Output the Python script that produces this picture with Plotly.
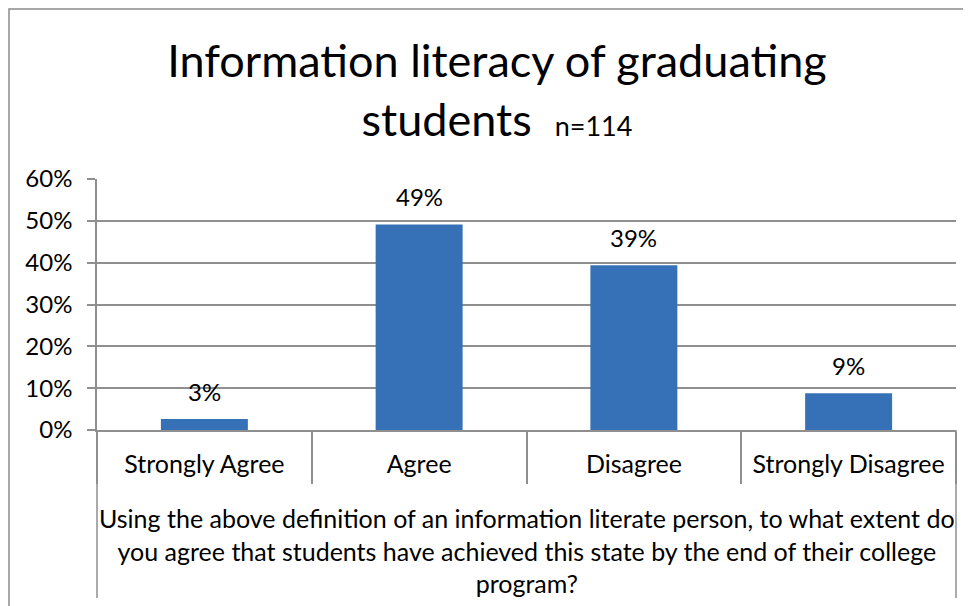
import plotly.graph_objects as go

categories = ["Strongly Agree", "Agree", "Disagree", "Strongly Disagree"]
values = [0.026, 0.491, 0.394, 0.088]
y_ticks = [0, 0.1, 0.2, 0.3, 0.4, 0.5, 0.6]
y_tick_labels = ["0%", "10%", "20%", "30%", "40%", "50%", "60%"]

title_main = "Information literacy of graduating<br>students  <span style='font-size:27px'>n=114</span>"
x_title = ("Using the above definition of an information literate person, to what extent do<br>"
           "you agree that students have achieved this state by the end of their college<br>"
           "program?")

FONT = "Lato, Carlito, Calibri, sans-serif"
GRID = "#8f8f8f"

# the page body has an 8px margin, so figure coords = screen coords - 8
W, H = 963, 598
L, R, T, B = 89, 948, 171, 422

def px(x):
    return (x - L) / (R - L)

def py(y):
    return (B - y) / (B - T)

fig = go.Figure()
fig.add_trace(go.Bar(
    x=categories, y=values,
    marker=dict(color="#3670b6", line=dict(width=0)),
    width=0.405,
    hoverinfo="skip",
))

for c, v in zip(categories, values):
    fig.add_annotation(x=c, y=v, text=f"{v:.0%}", showarrow=False,
                       yanchor="middle", yshift=28,
                       font=dict(family=FONT, size=24, color="#000"))

shapes = [
    dict(type="rect", xref="paper", yref="paper", x0=px(1), x1=px(1000), y0=py(640), y1=py(1),
         line=dict(color="#8a8a8a", width=1.5), fillcolor="rgba(0,0,0,0)", layer="below"),
    dict(type="line", xref="paper", yref="paper", x0=0, x1=0, y0=py(590), y1=0,
         line=dict(color=GRID, width=1.5)),
    dict(type="line", xref="paper", yref="paper", x0=1, x1=1, y0=py(590), y1=0,
         line=dict(color=GRID, width=1.5)),
]

fig.update_layout(
    width=W, height=H,
    margin=dict(l=L, r=W - R, t=T, b=H - B, autoexpand=False),
    paper_bgcolor="white", plot_bgcolor="white",
    showlegend=False,
    bargap=0.6,
    font=dict(family=FONT, color="#000"),
    title=dict(text=title_main, x=px(489), xref="paper", xanchor="center",
               y=1 - 69 / H, yanchor="middle",
               font=dict(family=FONT, size=45, color="#000")),
    shapes=shapes,
)

fig.add_annotation(text=x_title, xref="paper", yref="paper", x=0.5, y=py(542),
                   xanchor="center", yanchor="middle", align="center", showarrow=False,
                   font=dict(family=FONT, size=25, color="#000"))

fig.update_xaxes(
    type="category",
    tickson="boundaries", ticks="outside", ticklen=52, tickcolor=GRID, tickwidth=1.5,
    showline=True, linecolor=GRID, linewidth=1.5,
    tickfont=dict(family=FONT, size=25, color="#000"),
    showgrid=False, fixedrange=True, automargin=False,
    ticklabelstandoff=11,
)

fig.update_yaxes(
    range=[0, 0.6], tickvals=y_ticks, ticktext=y_tick_labels,
    showgrid=True, gridcolor=GRID, gridwidth=1.5,
    showline=True, linecolor=GRID, linewidth=1.5,
    ticks="outside", ticklen=8, tickcolor=GRID, tickwidth=1.5,
    tickfont=dict(family=FONT, size=24, color="#000"),
    zeroline=False, fixedrange=True, automargin=False,
    ticklabelstandoff=10,
)

fig.write_html("out.html")
